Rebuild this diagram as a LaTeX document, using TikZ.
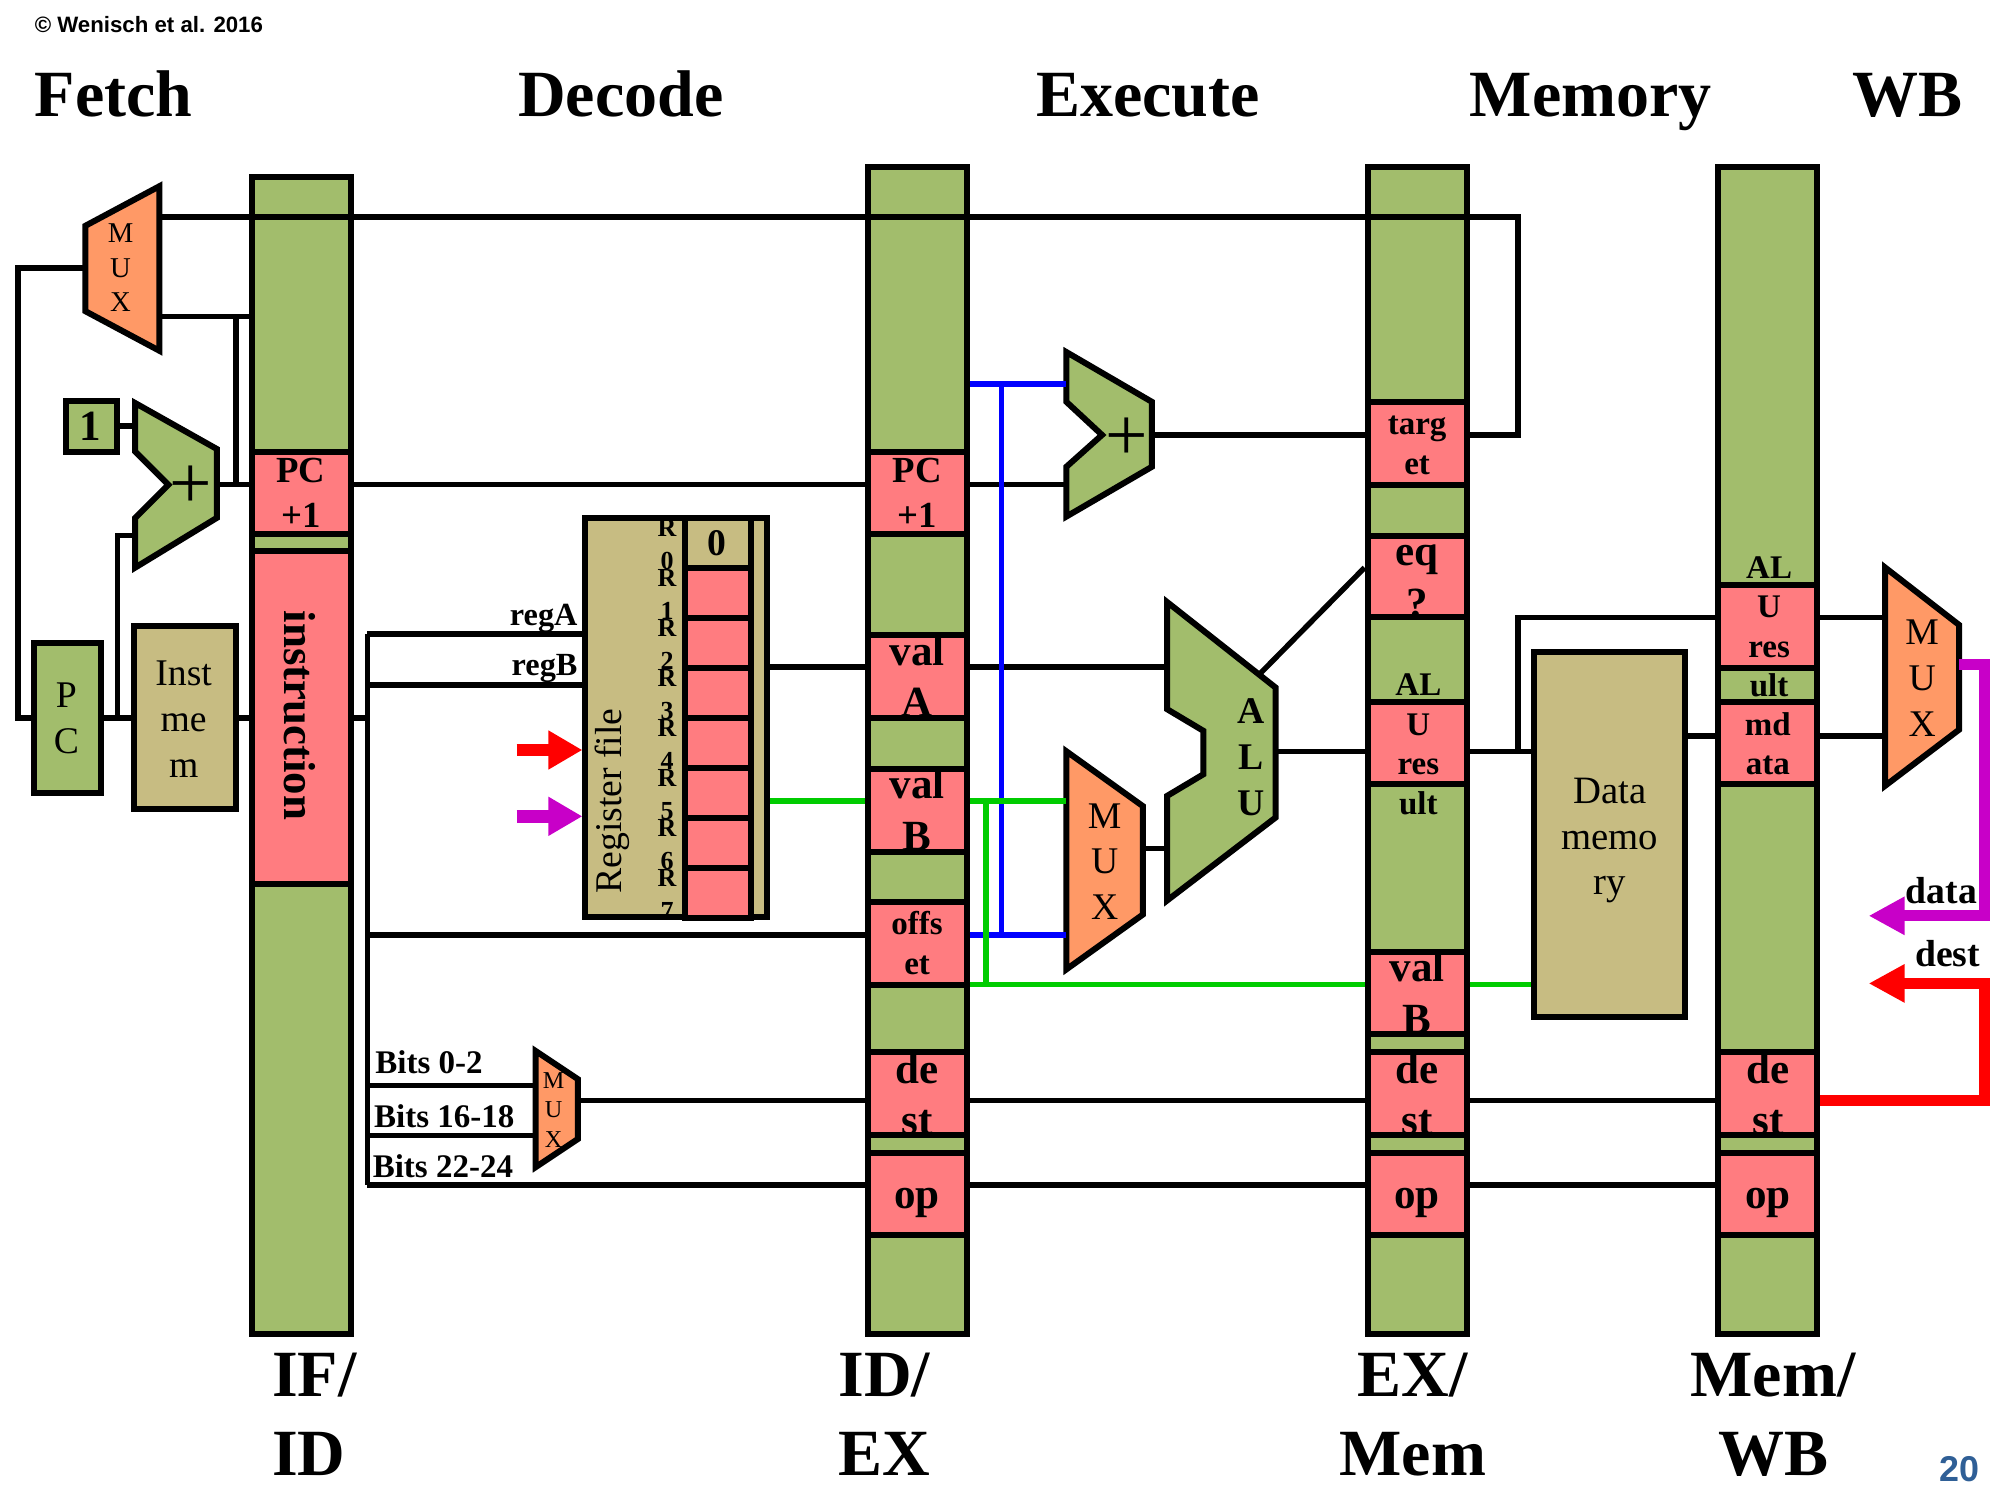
\documentclass[tikz,border=0pt]{standalone}
\usepackage{fontspec}
\setmainfont{Liberation Serif}
\newfontfamily\slidefont{Liberation Sans}
\usetikzlibrary{positioning}
\usetikzlibrary{arrows.meta}

\definecolor{barGreen}{HTML}{A2BD6C}
\definecolor{cellRed}{HTML}{FF7C80}
\definecolor{memTan}{HTML}{C7BC82}
\definecolor{muxOrange}{HTML}{FF9966}
\definecolor{pageBlue}{HTML}{2F5F96}
\definecolor{wbPurple}{HTML}{C800C8}

\tikzset{
  bar/.style={draw, fill=barGreen, line width=3.35pt, minimum width=1.94cm, minimum height=#1*0.025cm, inner sep=0},
  cellbox/.style={draw, fill=cellRed, line width=3.35pt, minimum width=1.94cm, minimum height=#1*0.025cm, inner sep=0, outer sep=0},
  regcell/.style={draw, line width=3.35pt, minimum width=1.3cm, minimum height=0.98cm, inner sep=0, outer sep=0},
  block/.style 2 args={draw, fill=#1, line width=3.35pt, minimum width=#2, inner sep=0},
  celltext/.style 2 args={font=\bfseries\fontsize{#1}{#2}\selectfont, align=center, inner sep=0},
  plaintext/.style 2 args={font=\fontsize{#1}{#2}\selectfont, align=center, inner sep=0},
  heading/.style={font=\bfseries\fontsize{36.8}{44}\selectfont, inner sep=0, anchor=base west},
  shapeline/.style={draw, line width=3.35pt, line join=miter},
  wire/.style={line width=3pt},
  bluewire/.style={line width=3pt, color=blue},
  greenwire/.style={line width=3pt, color=green!80!black},
  fbarrow/.style={line width=6.2pt, -{Triangle[length=20pt,width=20pt]}},
  rfarrow/.style={line width=7.1pt, -{Triangle[length=19pt,width=20.5pt]}}
}

\begin{document}
\begin{tikzpicture}[x=0.025cm, y=-0.025cm]
\useasboundingbox (0,0) rectangle (1568,1176);
% horizontal rails and vertical runs of the wires
\foreach \n/\y in {ytop/170, ymuxb/248, yaddb/301, yone/334, ytarget/341, ypc/380, ypcin/420, yeq/445,
                   ywbalu/484, yrega/497, yvala/523, yregb/537, yinstr/563, ywbmd/577, yalu/589,
                   yvalb/628, ymuxc/665, yoff/733, ysel/772, yb0/851, yb1/890, ydest/863, yop/929}
  \coordinate (\n) at (0,\y);
\foreach \n/\x in {xfb/14, xpcb/92, xjoin/185, xbus/288, xgreen/773, xblue/785, xret/1190, xwb/1556}
  \coordinate (\n) at (\x,0);

% Titles
\node[font=\slidefont\bfseries\fontsize{12.4}{15}\selectfont, inner sep=0, anchor=west] (credit) at (27,19) {© Wenisch et al. 2016};
\node[heading] (tfetch) at (27,91) {Fetch};
\node[heading] (tdecode) at (406,91) {Decode};
\node[heading] (texec) at (812,91) {Execute};
\node[heading] (tmem) at (1152,91) {Memory};
\node[heading] (twb) at (1452,91) {WB};

% Pipeline registers
\node[bar=907] (ifid) at (236,592.5) {};
\node[bar=915] (idex) at (719,588.5) {};
\node[bar=915] (exmem) at (1111,588.5) {};
\node[bar=915] (memwb) at (1386,588.5) {};
\node[heading] (lifid) at (213,1095) {IF/};
\node[heading] (lifidb) at (213,1157) {ID};
\node[heading] (lidex) at (657,1095) {ID/};
\node[heading] (lidexb) at (657,1157) {EX};
\node[heading] (lexmem) at (1064,1095) {EX/};
\node[heading] (lexmemb) at (1050,1157) {Mem};
\node[heading] (lmemwb) at (1325,1095) {Mem/};
\node[heading] (lmemwbb) at (1347,1157) {WB};

% IF/ID fields
\node[cellbox=65] (ifidpc) at (236,386.5) {};
\node[celltext={20.5}{25}] (ifidpct) at (236,386.5) {PC\\+1};
\node[cellbox=261] (ifidins) at (236,562.5) {};
\node[celltext={25}{29}, rotate=-90] (ifidinst) at (235,561) {instruction};

% ID/EX fields
\node[cellbox=65] (idexpc) at (719,386.5) {};
\node[celltext={20.5}{25}] (idexpct) at (719,386.5) {PC\\+1};
\node[cellbox=65] (idexa) at (719,530.5) {};
\node[celltext={24}{28.8}] (idexat) at (719,530) {val\\A};
\node[cellbox=65] (idexb) at (719,635.5) {};
\node[celltext={24}{28.8}] (idexbt) at (719,635) {val\\B};
\node[cellbox=65] (idexoff) at (719,739.5) {};
\node[celltext={18.4}{22}] (idexofft) at (719,739.5) {offs\\et};
\node[cellbox=65] (idexdest) at (719,857.5) {};
\node[celltext={24}{28.8}] (idexdestt) at (719,858) {de\\st};
\node[cellbox=64] (idexop) at (719,936) {};
\node[celltext={24}{28.8}] (idexopt) at (719,943) {op};

% EX/Mem fields
\node[cellbox=65] (exmemtg) at (1111,347.5) {};
\node[celltext={18.4}{22}] (exmemtgt) at (1111,349) {targ\\et};
\node[cellbox=64] (exmemeq) at (1111,452) {};
\node[celltext={24}{28.8}] (exmemeqt) at (1111,456) {eq\\?};
\node[cellbox=65] (exmemalu) at (1111,582.5) {};
\node[celltext={18.4}{22}] (exmemalut) at (1112,583.5) {AL\\U\\res\\ult};
\node[cellbox=65] (exmemb) at (1111,778.5) {};
\node[celltext={24}{28.8}] (exmembt) at (1111,778) {val\\B};
\node[cellbox=65] (exmemdest) at (1111,857.5) {};
\node[celltext={24}{28.8}] (exmemdestt) at (1111,858) {de\\st};
\node[cellbox=64] (exmemop) at (1111,936) {};
\node[celltext={24}{28.8}] (exmemopt) at (1111,943) {op};

% Mem/WB fields
\node[cellbox=65] (memwbalu) at (1386,491.5) {};
\node[celltext={18.4}{22}] (memwbalut) at (1387,491.5) {AL\\U\\res\\ult};
\node[cellbox=65] (memwbmd) at (1386,582.5) {};
\node[celltext={18.4}{22}] (memwbmdt) at (1386,583) {md\\ata};
\node[cellbox=65] (memwbdest) at (1386,857.5) {};
\node[celltext={24}{28.8}] (memwbdestt) at (1386,858) {de\\st};
\node[cellbox=64] (memwbop) at (1386,936) {};
\node[celltext={24}{28.8}] (memwbopt) at (1386,943) {op};

% the bottom rule of a field runs over its text
\foreach \c in {ifidpc, idexa, idexb, idexdest, exmemeq, exmemb, exmemdest, memwbdest}
  \draw[line width=3.35pt] (\c.south west) -- (\c.south east);

% Fetch stage
\node[block={barGreen}{1cm}, minimum height=1cm] (one) at (72,334) {};
\node[celltext={24}{28}] (onet) at (71,334) {1};
\node[block={barGreen}{1.3cm}, minimum height=2.95cm] (pc) at (53,563) {};
\node[plaintext={21}{25.6}] (pct) at (52,563) {P\\C};
\node[block={memTan}{2cm}, minimum height=3.575cm] (instmem) at (145,562.5) {};
\node[plaintext={21}{25.6}] (instmemt) at (144,564) {Inst\\me\\m};
\draw[shapeline, fill=muxOrange] (67,177) -- (125,146) -- (125,275) -- (67,244) -- cycle;
\coordinate (muxae) at (125,210);
\coordinate (muxaw) at (67,210);
\node[plaintext={16}{19.2}] (muxat) at (94.5,210) {M\\U\\X};
\draw[shapeline, fill=barGreen] (106,316) -- (170,352) -- (170,406) -- (106,445) -- (106,406) -- (132,380) -- (106,354) -- cycle;
\coordinate (adae) at (170,380);
\coordinate (adaw) at (106,380);
\node[plaintext={42}{46}] (adat) at (149.5,382) {+};

% Register file
\node[block={memTan}{3.55cm}, minimum height=7.825cm] (regfile) at (530,562.5) {};
\foreach \i in {0,...,7} {
  \pgfmathsetmacro{\ry}{425.4+39.2*\i}
  \pgfmathsetmacro{\ly}{427+39.2*\i}
  \ifnum\i=0 \node[regcell, fill=memTan] (reg\i) at (563,\ry) {};
  \else \node[regcell, fill=cellRed] (reg\i) at (563,\ry) {};
  \fi
  \node[celltext={14.5}{18.5}] (regl\i) at (523,\ly) {R\\\i};
}
\node[celltext={21}{25}] (regzero) at (562,426) {0};
\node[plaintext={21}{25}, rotate=90] (regname) at (480,628) {Register file};
\node[celltext={18}{22}, anchor=east] (rega) at (453,485) {regA};
\node[celltext={18}{22}, anchor=east] (regb) at (453,524) {regB};

% Decode bits and their MUX
\draw[shapeline, fill=muxOrange] (420,824) -- (453,846) -- (453,893) -- (420,915) -- cycle;
\coordinate (muxde) at (453,863);
\coordinate (muxdw) at (420,870);
\node[plaintext={13.5}{16.4}] (muxdt) at (434,870) {M\\U\\X};
\node[celltext={18.4}{22}, anchor=west] (bitsa) at (294,833) {Bits 0-2};
\node[celltext={18.4}{22}, anchor=west] (bitsb) at (293,875) {Bits 16-18};
\node[celltext={18.4}{22}, anchor=west] (bitsc) at (292,914) {Bits 22-24};

% Execute stage
\draw[shapeline, fill=barGreen] (836,276) -- (903,315) -- (903,366) -- (836,405) -- (836,366) -- (864,341) -- (836,315) -- cycle;
\coordinate (adbe) at (903,341);
\coordinate (adbw) at (836,341);
\node[plaintext={42}{46}] (adbt) at (883,344) {+};
\draw[shapeline, fill=muxOrange] (836,589) -- (896,632) -- (896,717) -- (836,760) -- cycle;
\coordinate (muxbe) at (896,665);
\coordinate (muxbw) at (836,675);
\node[plaintext={21}{25.6}] (muxbt) at (866,675.5) {M\\U\\X};
\draw[shapeline, fill=barGreen] (915,472) -- (1000,539) -- (1000,641) -- (915,706) -- (915,624) -- (943.5,607) -- (943.5,573) -- (915,556) -- cycle;
\coordinate (alue) at (1000,589);
\coordinate (aluw) at (915,589);
\coordinate (aluc) at (988,528);
\node[celltext={21}{25.6}] (alut) at (981,594) {A\\L\\U};

% Memory and WB stages
\node[block={memTan}{2.95cm}, minimum height=7.15cm] (datamem) at (1262,654) {};
\node[plaintext={21.6}{25.6}] (datamemt) at (1262,659) {Data\\memo\\ry};
\draw[shapeline, fill=muxOrange] (1478,445) -- (1536,490) -- (1536,572) -- (1478,616) -- cycle;
\coordinate (muxce) at (1536,521);
\coordinate (muxcw) at (1478,530);
\node[plaintext={21}{25.6}] (muxct) at (1507,532) {M\\U\\X};
\node[celltext={21}{25}] (ldata) at (1522,698) {data};
\node[celltext={21}{25}] (ldest) at (1527,748) {dest};
\node[font=\slidefont\bfseries\fontsize{20}{24}\selectfont, text=pageBlue, inner sep=0] (pagenum) at (1536,1152) {20};

% Fetch wires
\draw[wire] (muxae |- ytop) -- (xret |- ytop) -- (xret |- ytarget) -- (exmem.east |- ytarget);
\draw[wire] (muxae |- ymuxb) -- (ifid.west |- ymuxb);
\draw[wire] (xjoin |- ymuxb) -- (xjoin |- ypc);
\draw[wire] (adae) -- (ifid.west |- ypc);
\draw[wire] (one.east |- yone) -- (adaw |- yone);
\draw[wire] (muxaw) -- (xfb |- muxaw) -- (xfb |- yinstr) -- (pc.west |- yinstr);
\draw[wire] (pc.east |- yinstr) -- (instmem.west |- yinstr);
\draw[wire] (xpcb |- yinstr) -- (xpcb |- ypcin) -- (adaw |- ypcin);
\draw[wire] (instmem.east |- yinstr) -- (ifid.west |- yinstr);
% Decode wires
\draw[wire] (ifid.east |- ypc) -- (idex.west |- ypc);
\draw[wire] (ifid.east |- yinstr) -- (xbus |- yinstr);
\draw[wire] (xbus |- yrega) -- (xbus |- yop);
\draw[wire] (xbus |- yrega) -- (regfile.west |- yrega);
\draw[wire] (xbus |- yregb) -- (regfile.west |- yregb);
\draw[wire] (xbus |- yoff) -- (idex.west |- yoff);
\draw[wire] (xbus |- yb0) -- (muxdw |- yb0);
\draw[wire] (xbus |- yb1) -- (muxdw |- yb1);
\draw[wire] (xbus |- yop) -- (idex.west |- yop);
\draw[wire] (muxde) -- (idex.west |- ydest);
\draw[wire] (regfile.east |- yvala) -- (idex.west |- yvala);
% Execute wires
\draw[wire] (idex.east |- ypc) -- (adbw |- ypc);
\draw[wire] (adbe) -- (exmem.west |- ytarget);
\draw[wire] (idex.east |- yvala) -- (aluw |- yvala);
\draw[wire] (muxbe) -- (aluw |- muxbe);
\draw[wire] (alue) -- (exmem.west |- yalu);
\draw[wire] (aluc) -- (exmem.west |- yeq);
\draw[wire] (idex.east |- ydest) -- (exmem.west |- ydest);
\draw[wire] (idex.east |- yop) -- (exmem.west |- yop);
% Memory wires
\draw[wire] (exmem.east |- yalu) -- (datamem.west |- yalu);
\draw[wire] (xret |- yalu) -- (xret |- ywbalu) -- (memwb.west |- ywbalu);
\draw[wire] (datamem.east |- ywbmd) -- (memwb.west |- ywbmd);
\draw[wire] (exmem.east |- ydest) -- (memwb.west |- ydest);
\draw[wire] (exmem.east |- yop) -- (memwb.west |- yop);
\draw[wire] (memwb.east |- ywbalu) -- (muxcw |- ywbalu);
\draw[wire] (memwb.east |- ywbmd) -- (muxcw |- ywbmd);
% offset to adder and MUX
\draw[bluewire] (idex.east |- yaddb) -- (adbw |- yaddb);
\draw[bluewire] (xblue |- yaddb) -- (xblue |- yoff);
\draw[bluewire] (idex.east |- yoff) -- (muxbw |- yoff);
% valB
\draw[greenwire] (regfile.east |- yvalb) -- (idex.west |- yvalb);
\draw[greenwire] (idex.east |- yvalb) -- (muxbw |- yvalb);
\draw[greenwire] (xgreen |- yvalb) -- (xgreen |- ysel);
\draw[greenwire] (idex.east |- ysel) -- (exmem.west |- ysel);
\draw[greenwire] (exmem.east |- ysel) -- (datamem.west |- ysel);
% write back
\coordinate (tipdata) at (1465,718);
\coordinate (tipdest) at (1465,771);
\draw[fbarrow, color=red] (memwb.east |- ydest) -- (xwb |- ydest) -- (xwb |- tipdest) -- (tipdest);
\draw[fbarrow, color=wbPurple] (muxce) -- (xwb |- muxce) -- (xwb |- tipdata) -- (tipdata);
\coordinate (tailred) at (405,588);
\coordinate (tailpurple) at (405,640);
\draw[rfarrow, color=red] (tailred) -- (regfile.west |- tailred);
\draw[rfarrow, color=wbPurple] (tailpurple) -- (regfile.west |- tailpurple);
\end{tikzpicture}
\end{document}
